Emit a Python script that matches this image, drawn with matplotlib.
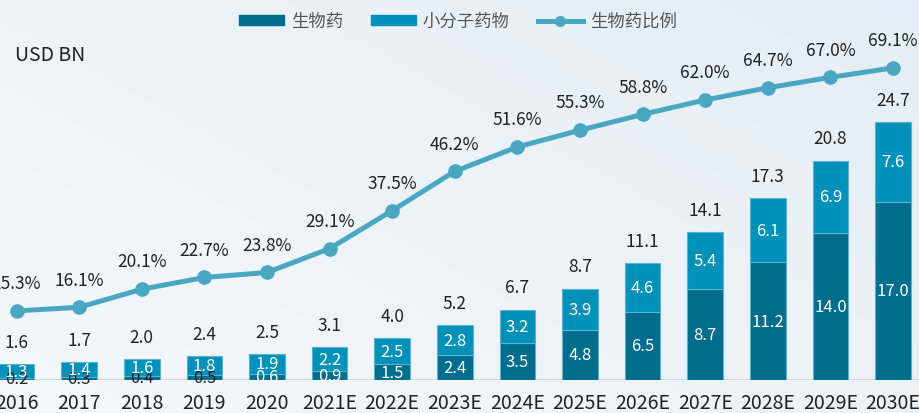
import numpy as np
import matplotlib
matplotlib.use('Agg')
from matplotlib import pyplot as plt
from matplotlib.patches import Patch
from matplotlib.lines import Line2D

plt.rcParams['font.family'] = ['Noto Sans CJK SC', 'DejaVu Sans']

years = ['2016', '2017', '2018', '2019', '2020', '2021E', '2022E', '2023E',
         '2024E', '2025E', '2026E', '2027E', '2028E', '2029E', '2030E']
bio = [0.2, 0.3, 0.4, 0.5, 0.6, 0.9, 1.5, 2.4, 3.5, 4.8, 6.5, 8.7, 11.2, 14.0, 17.0]
small = [1.3, 1.4, 1.6, 1.8, 1.9, 2.2, 2.5, 2.8, 3.2, 3.9, 4.6, 5.4, 6.1, 6.9, 7.6]
total = [1.6, 1.7, 2.0, 2.4, 2.5, 3.1, 4.0, 5.2, 6.7, 8.7, 11.1, 14.1, 17.3, 20.8, 24.7]
ratio = [15.3, 16.1, 20.1, 22.7, 23.8, 29.1, 37.5, 46.2, 51.6, 55.3, 58.8, 62.0, 64.7, 67.0, 69.1]

c_bio = '#006d8c'
c_small = '#0091bb'
c_line = '#4aa7c2'
c_edge = '#5ab4d0'
c_text = '#222222'

fig = plt.figure(figsize=(9.19, 4.14), dpi=100)

# soft background
bg = fig.add_axes([0, 0, 1, 1])
gx, gy = np.meshgrid(np.linspace(0, 1, 200), np.linspace(0, 1, 100))
t = np.clip(0.55 * gx + 0.45 * (1 - gy), 0, 1)[..., None]
c0 = np.array([0.955, 0.972, 0.985])
c1 = np.array([0.895, 0.932, 0.962])
bg.imshow(c0 * (1 - t) + c1 * t, aspect='auto', extent=[0, 1, 0, 1])
bg.axis('off')

ax = fig.add_axes([0, 33 / 414, 1, 381 / 414])
ax.patch.set_alpha(0)
x = np.arange(len(years))
w = 0.57
ax.bar(x, bio, w, color=c_bio, edgecolor=c_edge, linewidth=0.8, zorder=2)
ax.bar(x, small, w, bottom=bio, color=c_small, edgecolor=c_edge, linewidth=0.8, zorder=2)
ax.axhline(0, color='#cfd6dc', lw=1.5, zorder=1)

for i in range(len(years)):
    ax.text(x[i], bio[i] / 2, f'{bio[i]:.1f}', ha='center', va='center', fontsize=12,
            color=c_text if i < 4 else 'white', zorder=4)
    ax.text(x[i], bio[i] + small[i] / 2, f'{small[i]:.1f}', ha='center', va='center',
            fontsize=12, color='white', zorder=4)
    ax.annotate(f'{total[i]:.1f}', (x[i], bio[i] + small[i]), xytext=(0, 16),
                textcoords='offset points', ha='center', va='center', fontsize=12.5,
                color=c_text)

ax.set_xlim(-0.265, 14.415)
ax.set_ylim(0, 36.3)
ax.set_xticks(x)
ax.set_xticklabels(years, fontsize=14, color=c_text)
ax.tick_params(axis='x', length=0, pad=9)
ax.set_yticks([])
for s in ax.spines.values():
    s.set_visible(False)

ax2 = ax.twinx()
ax2.plot(x, ratio, color=c_line, lw=3.6, marker='o', ms=9.5, zorder=3)
for i in range(len(years)):
    ax2.annotate(f'{ratio[i]:.1f}%', (x[i], ratio[i]), xytext=(0, 20),
                 textcoords='offset points', ha='center', va='center', fontsize=12.5,
                 color=c_text)
ax2.set_ylim(0, 84.35)
ax2.set_yticks([])
for s in ax2.spines.values():
    s.set_visible(False)

handles = [Patch(color=c_bio), Patch(color=c_small),
           Line2D([], [], color=c_line, lw=3.6, marker='o', ms=7)]
ax2.legend(handles, ['生物药', '小分子药物', '生物药比例'], loc='center',
           bbox_to_anchor=(0.498, 0.942), ncol=3, frameon=False, fontsize=12.5,
           labelcolor='#555555', handlelength=2.6, handleheight=0.5,
           handletextpad=0.4, columnspacing=1.6)

fig.text(15 / 919, 1 - 56 / 414, 'USD BN', fontsize=14, color=c_text, va='center')

plt.savefig('out.png', dpi=100)
